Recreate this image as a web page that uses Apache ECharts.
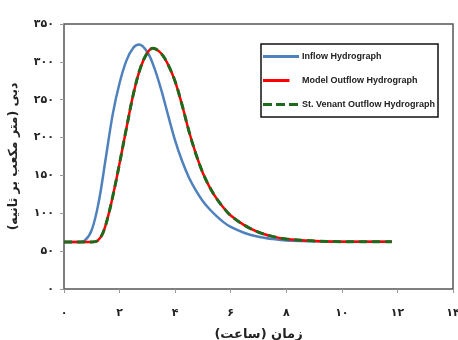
<!DOCTYPE html>
<html>
<head>
<meta charset="utf-8">
<script src="https://cdn.jsdelivr.net/npm/echarts@6/dist/echarts.min.js"></script>
<style>html,body{margin:0;padding:0;background:#fff}#c{width:458px;height:340px}</style>
</head>
<body>
<div id="c"></div>
<script>
var seriesNames = ['Inflow Hydrograph', 'Model Outflow Hydrograph', 'St. Venant Outflow Hydrograph'];
var inflowT = [0, 0.25, 0.5, 0.75, 1.0, 1.25, 1.5, 1.75, 2.0, 2.25, 2.5, 2.7, 3.0, 3.25, 3.5, 3.75, 4.0, 4.25, 4.5, 4.75, 5.0, 5.25, 5.5, 5.75, 6.0, 6.5, 7.0, 7.5, 8.0, 9.0, 10.0, 11.8];
var inflowQ = [62, 62, 62, 64, 78, 115, 172, 230, 272, 302, 319, 323, 313, 292, 263, 229, 196, 169, 147, 130, 116, 105, 96, 88, 82, 74, 69, 66, 64, 63, 62.5, 62.5];
var modelT = [0, 0.5, 1.0, 1.2, 1.4, 1.6, 1.8, 2.0, 2.25, 2.5, 2.75, 3.0, 3.2, 3.5, 3.75, 4.0, 4.25, 4.5, 4.75, 5.0, 5.25, 5.5, 5.75, 6.0, 6.5, 7.0, 7.5, 8.0, 9.0, 10.0, 11.8];
var modelQ = [62, 62, 62, 63.5, 74, 98, 130, 166, 213, 258, 292, 312, 318, 311, 296, 274, 243, 208, 178, 153, 134, 119, 107, 97, 84, 75, 69.5, 66, 63.5, 62.5, 62.5];
var venantT = [0, 0.5, 1.0, 1.2, 1.4, 1.6, 1.8, 2.0, 2.25, 2.5, 2.75, 3.0, 3.2, 3.5, 3.75, 4.0, 4.25, 4.5, 4.75, 5.0, 5.25, 5.5, 5.75, 6.0, 6.5, 7.0, 7.5, 8.0, 9.0, 10.0, 11.8];
var venantQ = [62, 62, 62, 63.5, 74, 98, 130, 166, 213, 258, 292, 312, 318, 311, 296, 274, 243, 208, 178, 153, 134, 119, 107, 97, 84, 75, 69.5, 66, 63.5, 62.5, 62.5];
var xTickLabels = ['۰', '۲', '۴', '۶', '۸', '۱۰', '۱۲', '۱۴'];
var yTickLabels = ['۰', '۵۰', '۱۰۰', '۱۵۰', '۲۰۰', '۲۵۰', '۳۰۰', '۳۵۰'];
var xName = 'زمان (ساعت)';
var yName = 'دبی (متر مکعب بر ثانیه)';

function zip(a, b) { return a.map(function (v, i) { return [v, b[i]]; }); }

var chart = echarts.init(document.getElementById('c'));
var labelFont = { fontFamily: 'DejaVu Sans', fontSize: 11, fontWeight: 'bold', color: '#222' };
var icons = [
  'path://M0,0h36v3h-36z',
  'path://M2,0h25v3h-25z M35.8,0h0.2v0.2h-0.2z',
  'path://M0,0h9v3h-9z M13,0h9v3h-9z M26,0h9v3h-9z M35.8,0h0.2v0.2h-0.2z'
];
chart.setOption({
  animation: false,
  backgroundColor: '#fff',
  grid: { left: 64, right: 5, top: 24, bottom: 51, outerBoundsMode: 'none', containLabel: false,
    show: true, borderColor: '#555', borderWidth: 1.5, backgroundColor: 'transparent' },
  legend: {
    orient: 'vertical', left: 261, top: 44,
    padding: [8, 3, 8, 2],
    itemGap: 15, itemWidth: 36, itemHeight: 4,
    borderColor: '#111', borderWidth: 1.5, borderRadius: 0,
    textStyle: { fontFamily: 'Liberation Sans', fontSize: 9, fontWeight: 'bold', color: '#222', padding: [0, 0, 0, -2] },
    data: seriesNames.map(function (n, i) { return { name: n, icon: icons[i] }; })
  },
  xAxis: {
    type: 'value', min: 0, max: 14, interval: 2,
    name: xName, nameLocation: 'middle', nameGap: 39,
    nameTextStyle: { fontFamily: 'DejaVu Sans', fontSize: 13, fontWeight: 'bold', color: '#222' },
    axisLine: { show: false },
    axisTick: { show: true, length: 4, lineStyle: { color: '#999' } },
    axisLabel: Object.assign({ margin: 19, formatter: function (v) { return xTickLabels[Math.round(v / 2)]; } }, labelFont),
    splitLine: { show: false }
  },
  yAxis: {
    type: 'value', min: 0, max: 350, interval: 50,
    name: yName, nameLocation: 'middle', nameGap: 44, nameRotate: 90,
    nameTextStyle: { fontFamily: 'DejaVu Sans', fontSize: 12.5, fontWeight: 'bold', color: '#222' },
    axisLine: { show: false },
    axisTick: { show: true, length: 4, lineStyle: { color: '#999' } },
    axisLabel: Object.assign({ margin: 10, formatter: function (v) { return yTickLabels[Math.round(v / 50)]; } }, labelFont),
    splitLine: { show: false }
  },
  series: [
    { name: seriesNames[0], type: 'line', data: zip(inflowT, inflowQ), smooth: 0.35, symbol: 'none',
      lineStyle: { color: '#4f81bd', width: 2.5 }, itemStyle: { color: '#4f81bd' } },
    { name: seriesNames[1], type: 'line', data: zip(modelT, modelQ), smooth: 0.35, symbol: 'none',
      lineStyle: { color: '#ff0000', width: 2.5 }, itemStyle: { color: '#ff0000' } },
    { name: seriesNames[2], type: 'line', data: zip(venantT, venantQ), smooth: 0.35, symbol: 'none',
      lineStyle: { color: '#1e6b1e', width: 3, type: [8, 5] }, itemStyle: { color: '#1e6b1e' } }
  ]
});
</script>
</body>
</html>
